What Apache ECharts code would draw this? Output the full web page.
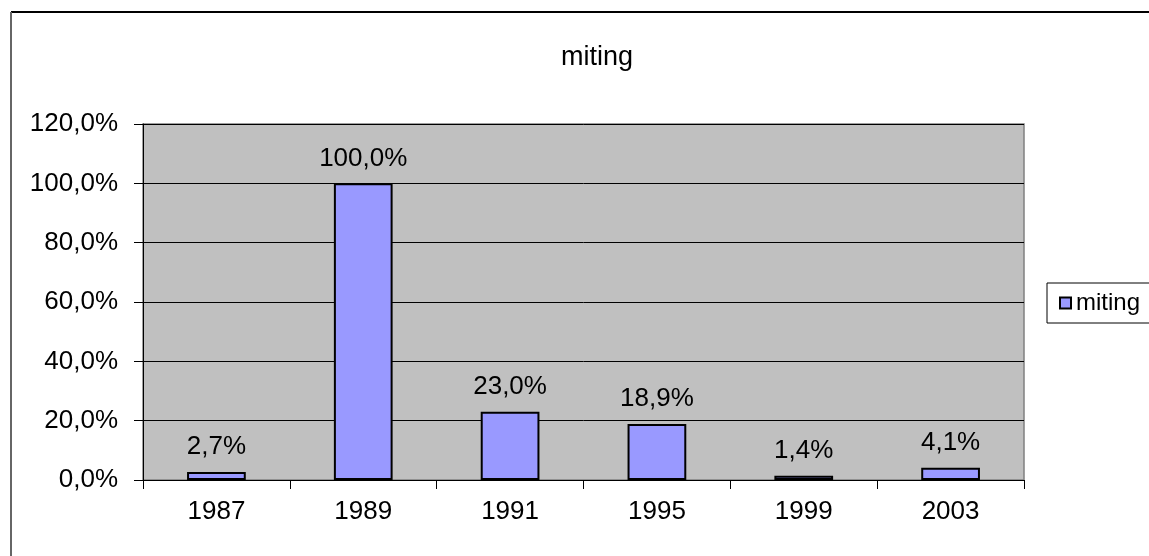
<!DOCTYPE html>
<html>
<head>
<meta charset="utf-8">
<script src="https://cdn.jsdelivr.net/npm/echarts@6/dist/echarts.min.js"></script>
<style>html,body{margin:0;padding:0;background:#fff;}#c{width:1149px;height:556px;}</style>
</head>
<body>
<div id="c"></div>
<script>
var categories = ['1987', '1989', '1991', '1995', '1999', '2003'];
var seriesName = 'miting';
var values = [2.7, 100.0, 23.0, 18.9, 1.4, 4.1];
var yTicks = [0, 20, 40, 60, 80, 100, 120];

function pct(v) { return Number(v).toFixed(1).replace('.', ',') + '%'; }

var chart = echarts.init(document.getElementById('c'), null, {renderer: 'canvas'});
var font = 'Liberation Sans, Arial, sans-serif';
chart.setOption({
  animation: false,
  backgroundColor: '#fff',
  textStyle: {fontFamily: font},
  graphic: [
    {type: 'line', shape: {x1: 11, y1: 12, x2: 1160, y2: 12}, style: {stroke: '#000', lineWidth: 2}},
    {type: 'line', shape: {x1: 11, y1: 12, x2: 11, y2: 570}, style: {stroke: '#666', lineWidth: 2}}
  ],
  title: {
    text: seriesName,
    left: 556,
    top: 39,
    textStyle: {fontFamily: font, fontSize: 27, fontWeight: 'normal', color: '#000'}
  },
  legend: {
    left: 1047,
    top: 283,
    orient: 'vertical',
    icon: 'rect',
    itemWidth: 11,
    itemHeight: 11,
    itemGap: 4,
    padding: [8, 10, 8, 12],
    borderColor: '#000',
    borderWidth: 1,
    backgroundColor: '#fff',
    textStyle: {fontFamily: font, fontSize: 24, color: '#000', padding: [0, 0, 0, 0]},
    data: [seriesName]
  },
  grid: {
    left: 143, right: 125, top: 124, bottom: 76,
    show: true, backgroundColor: '#C0C0C0', borderColor: '#808080', borderWidth: 1.5
  },
  xAxis: {
    type: 'category',
    data: categories,
    axisLine: {lineStyle: {color: '#000', width: 1}},
    axisTick: {show: true, length: 9, lineStyle: {color: '#000'}},
    axisLabel: {fontFamily: font, fontSize: 26, color: '#000', margin: 19}
  },
  yAxis: {
    type: 'value',
    min: yTicks[0],
    max: yTicks[yTicks.length - 1],
    interval: yTicks[1] - yTicks[0],
    axisLine: {show: true, lineStyle: {color: '#000', width: 1}},
    axisTick: {show: true, length: 9, lineStyle: {color: '#000'}},
    splitLine: {show: true, lineStyle: {color: '#000', width: 1}},
    axisLabel: {fontFamily: font, fontSize: 26, color: '#000', margin: 25, formatter: pct}
  },
  series: [{
    name: seriesName,
    type: 'bar',
    data: values,
    barCategoryGap: '60%',
    itemStyle: {color: '#9999FF', borderColor: '#000', borderWidth: 2},
    label: {
      show: true, position: 'top', distance: 12,
      fontFamily: font, fontSize: 26, color: '#000',
      formatter: function (p) { return pct(p.value); }
    }
  }]
});
</script>
</body>
</html>
